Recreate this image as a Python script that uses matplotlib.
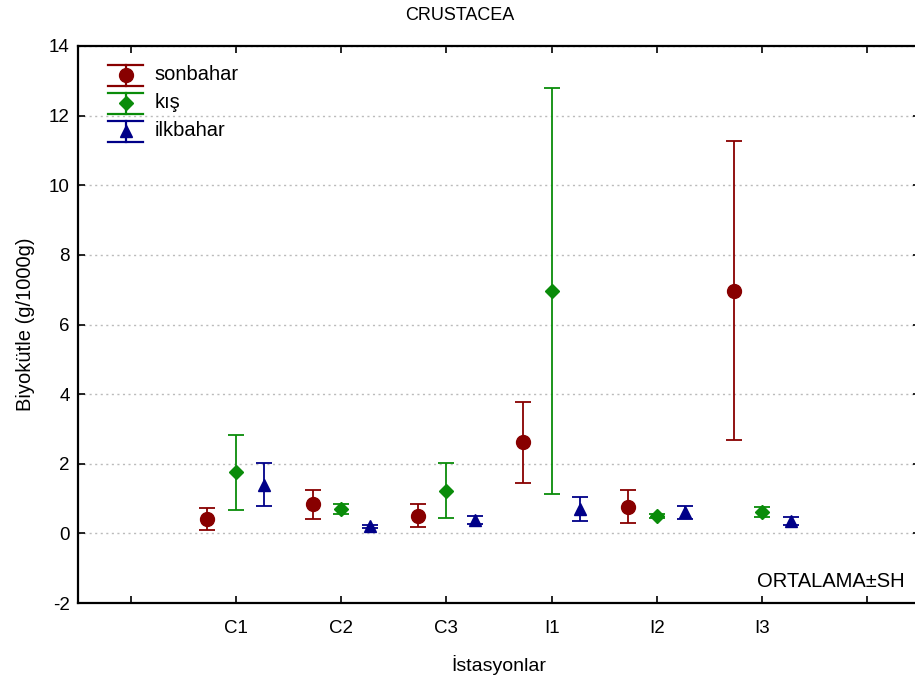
import matplotlib
matplotlib.use("Agg")
import matplotlib.pyplot as plt
from matplotlib.lines import Line2D
from matplotlib.legend_handler import HandlerBase

plt.rcParams['font.family'] = ['Liberation Sans', 'DejaVu Sans']
plt.rcParams['axes.unicode_minus'] = False

stations = ["C1", "C2", "C3", "I1", "I2", "I3"]
seasons = ["sonbahar", "kış", "ilkbahar"]

# ortalama ve standart hata (SH)
sonbahar_mean = [0.41, 0.83, 0.51, 2.62, 0.77, 6.97]
sonbahar_se = [0.32, 0.43, 0.33, 1.16, 0.47, 4.30]
kis_mean = [1.75, 0.70, 1.22, 6.95, 0.50, 0.62]
kis_se = [1.07, 0.145, 0.79, 5.83, 0.07, 0.145]
ilkbahar_mean = [1.40, 0.20, 0.39, 0.70, 0.60, 0.35]
ilkbahar_se = [0.61, 0.05, 0.11, 0.34, 0.18, 0.11]

means = [sonbahar_mean, kis_mean, ilkbahar_mean]
errs = [sonbahar_se, kis_se, ilkbahar_se]
colors = ["#880000", "#0a8c0a", "#000088"]
markers = ["o", "D", "^"]
msizes = [10, 7.5, 8.5]
offsets = [-0.27, 0.0, 0.27]


class ErrHandler(HandlerBase):
    def create_artists(self, legend, orig_handle, xdescent, ydescent,
                       width, height, fontsize, trans):
        c = orig_handle.get_color()
        xm = width / 2 - xdescent
        mid = height * 0.35
        top = mid + 7.6
        bot = mid - 7.6
        lw = 1.6
        arts = [
            Line2D([0 - xdescent, width - xdescent], [top, top], color=c, lw=lw),
            Line2D([0 - xdescent, width - xdescent], [bot, bot], color=c, lw=lw),
            Line2D([xm, xm], [bot, top], color=c, lw=lw),
            Line2D([xm], [mid], color=c, marker=orig_handle.get_marker(),
                   markersize=orig_handle.get_markersize(), linestyle="none"),
        ]
        for a in arts:
            a.set_transform(trans)
        return arts


fig = plt.figure(figsize=(9.15, 6.83), dpi=100)
ax = fig.add_axes([78 / 915, 80 / 683, 842 / 915, 557 / 683])

handles = []
for i in range(3):
    xs = [k + 1 + offsets[i] for k in range(len(stations))]
    ax.errorbar(xs, means[i], yerr=errs[i], fmt=markers[i], color=colors[i],
                ecolor=colors[i], markersize=msizes[i], capsize=6,
                elinewidth=1.3, capthick=1.3, zorder=3)
    handles.append(Line2D([], [], color=colors[i], marker=markers[i],
                          markersize=msizes[i], linestyle="none"))

ax.set_xlim(-0.5, 7.5)
ax.set_ylim(-2, 14)
ax.set_xticks(range(8))
ax.set_xticklabels([""] + stations + [""])
ax.set_yticks(range(-2, 15, 2))
ax.tick_params(axis="both", direction="in", length=5, width=1.2,
               labelsize=13.5, top=True, right=True)
ax.tick_params(axis="x", pad=12)
ax.tick_params(axis="y", pad=6)
for s in ax.spines.values():
    s.set_linewidth(1.6)
ax.yaxis.grid(True, linestyle=(0, (1.5, 2.5)), color="#bbbbbb", linewidth=1)
ax.set_axisbelow(True)

ax.set_xlabel("İstasyonlar", fontsize=14, labelpad=13)
ax.set_ylabel("Biyokütle (g/1000g)", fontsize=14.5, labelpad=10)
fig.text(0.503, 0.978, "CRUSTACEA", ha="center", va="center", fontsize=13)
ax.text((905 - 78) / 842, 0.022, "ORTALAMA±SH", transform=ax.transAxes,
        ha="right", va="bottom", fontsize=14.5)

ax.legend(handles, seasons, handler_map={Line2D: ErrHandler()},
          loc="upper left", bbox_to_anchor=(30 / 842, 1 - 19 / 557),
          frameon=False, fontsize=14.5, handlelength=1.75, handletextpad=0.55,
          labelspacing=0.45, borderpad=0, borderaxespad=0)

fig.savefig("out.png", dpi=100)
